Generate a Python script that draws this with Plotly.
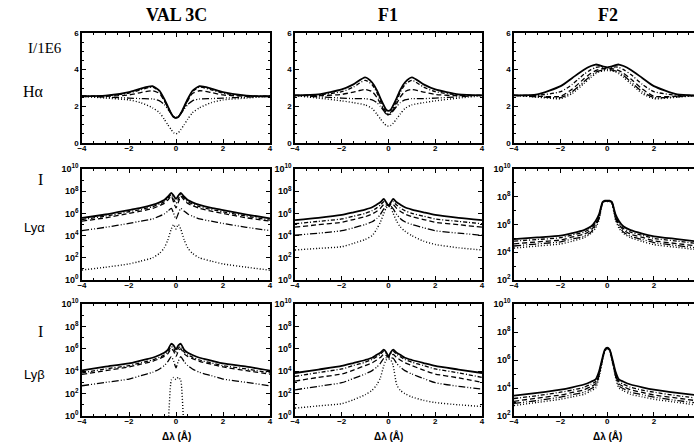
import plotly.graph_objects as go
from plotly.subplots import make_subplots

# wavelength offset grid (Angstrom) shared by every profile
X = [-4, -3, -2, -1.5, -1, -0.7, -0.5, -0.35, -0.2, -0.1, 0,
     0.1, 0.2, 0.35, 0.5, 0.7, 1, 1.5, 2, 3, 4]

COLUMNS = ["VAL 3C", "F1", "F2"]

# H-alpha, I/1E6 (five models per atmosphere)
HA_VAL3C = [
    [2.55, 2.58, 2.78, 2.97, 3.10, 2.85, 2.40, 2.00, 1.60, 1.42, 1.37, 1.42, 1.60, 2.00, 2.40, 2.85, 3.10, 2.97, 2.78, 2.58, 2.55],
    [2.55, 2.57, 2.72, 2.90, 3.05, 2.80, 2.35, 1.95, 1.60, 1.42, 1.37, 1.42, 1.60, 1.95, 2.35, 2.80, 3.05, 2.90, 2.72, 2.57, 2.55],
    [2.55, 2.55, 2.62, 2.75, 2.85, 2.70, 2.30, 1.95, 1.60, 1.42, 1.37, 1.42, 1.60, 1.95, 2.30, 2.70, 2.85, 2.75, 2.62, 2.55, 2.55],
    [2.55, 2.50, 2.45, 2.42, 2.40, 2.30, 2.10, 1.85, 1.60, 1.45, 1.40, 1.45, 1.60, 1.85, 2.10, 2.30, 2.40, 2.42, 2.45, 2.50, 2.55],
    [2.55, 2.45, 2.35, 2.20, 1.92, 1.65, 1.30, 1.00, 0.72, 0.56, 0.50, 0.56, 0.72, 1.00, 1.30, 1.65, 1.92, 2.20, 2.35, 2.45, 2.55],
]
HA_F1 = [
    [2.60, 2.65, 2.92, 3.20, 3.58, 3.30, 2.88, 2.45, 2.05, 1.82, 1.75, 1.82, 2.05, 2.45, 2.88, 3.30, 3.58, 3.20, 2.92, 2.65, 2.60],
    [2.60, 2.62, 2.80, 3.05, 3.42, 3.18, 2.75, 2.30, 1.90, 1.68, 1.60, 1.68, 1.90, 2.30, 2.75, 3.18, 3.42, 3.05, 2.80, 2.62, 2.60],
    [2.60, 2.58, 2.65, 2.78, 2.92, 2.80, 2.50, 2.15, 1.80, 1.60, 1.55, 1.60, 1.80, 2.15, 2.50, 2.80, 2.92, 2.78, 2.65, 2.58, 2.60],
    [2.60, 2.52, 2.45, 2.42, 2.42, 2.35, 2.20, 2.00, 1.75, 1.58, 1.52, 1.58, 1.75, 2.00, 2.20, 2.35, 2.42, 2.42, 2.45, 2.52, 2.60],
    [2.58, 2.45, 2.30, 2.20, 2.08, 1.88, 1.58, 1.32, 1.08, 0.96, 0.92, 0.96, 1.08, 1.32, 1.58, 1.88, 2.08, 2.20, 2.30, 2.45, 2.58],
]
HA_F2 = [
    [2.60, 2.65, 3.10, 3.55, 4.00, 4.20, 4.28, 4.25, 4.18, 4.15, 4.13, 4.15, 4.18, 4.25, 4.28, 4.20, 4.00, 3.55, 3.10, 2.65, 2.60],
    [2.60, 2.60, 2.80, 3.20, 3.75, 4.00, 4.12, 4.15, 4.12, 4.10, 4.10, 4.10, 4.12, 4.15, 4.12, 4.00, 3.75, 3.20, 2.80, 2.60, 2.60],
    [2.60, 2.55, 2.55, 2.95, 3.50, 3.80, 3.95, 4.02, 4.05, 4.05, 4.05, 4.05, 4.05, 4.02, 3.95, 3.80, 3.50, 2.95, 2.55, 2.55, 2.60],
    [2.60, 2.52, 2.48, 2.80, 3.35, 3.68, 3.85, 3.93, 3.98, 4.00, 4.00, 4.00, 3.98, 3.93, 3.85, 3.68, 3.35, 2.80, 2.48, 2.52, 2.60],
    [2.60, 2.50, 2.42, 2.70, 3.25, 3.58, 3.78, 3.88, 3.93, 3.95, 3.95, 3.95, 3.93, 3.88, 3.78, 3.58, 3.25, 2.70, 2.42, 2.50, 2.60],
]

# Lyman-alpha, log10 I
LYA_VAL3C = [
    [5.60, 5.90, 6.30, 6.50, 6.77, 7.00, 7.20, 7.50, 7.85, 7.60, 7.30, 7.60, 7.85, 7.50, 7.20, 7.00, 6.77, 6.50, 6.30, 5.90, 5.55],
    [5.45, 5.75, 6.15, 6.35, 6.60, 6.85, 7.05, 7.35, 7.70, 7.30, 6.90, 7.30, 7.70, 7.35, 7.05, 6.85, 6.60, 6.35, 6.15, 5.75, 5.40],
    [5.30, 5.60, 6.00, 6.20, 6.45, 6.70, 6.90, 7.20, 7.55, 7.00, 6.50, 7.00, 7.55, 7.20, 6.90, 6.70, 6.45, 6.20, 6.00, 5.60, 5.30],
    [4.45, 4.75, 5.10, 5.30, 5.50, 5.75, 5.95, 6.20, 6.45, 6.00, 5.50, 6.00, 6.45, 6.20, 5.95, 5.75, 5.50, 5.30, 5.10, 4.75, 4.45],
    [0.90, 1.15, 1.45, 1.70, 2.00, 2.40, 2.90, 3.60, 4.60, 5.00, 4.60, 5.00, 4.60, 3.60, 2.90, 2.40, 2.00, 1.70, 1.45, 1.15, 0.88],
]
LYA_F1 = [
    [5.40, 5.60, 5.87, 6.10, 6.35, 6.55, 6.80, 7.00, 7.30, 7.00, 6.70, 7.00, 7.30, 7.00, 6.80, 6.55, 6.35, 6.10, 5.87, 5.60, 5.40],
    [5.07, 5.28, 5.50, 5.75, 6.00, 6.25, 6.50, 6.75, 7.05, 6.85, 6.70, 6.85, 7.05, 6.75, 6.50, 6.25, 6.00, 5.75, 5.50, 5.28, 5.07],
    [4.76, 4.98, 5.20, 5.45, 5.70, 5.95, 6.20, 6.45, 6.80, 6.75, 6.70, 6.75, 6.80, 6.45, 6.20, 5.95, 5.70, 5.45, 5.20, 4.98, 4.76],
    [4.03, 4.22, 4.44, 4.70, 5.00, 5.25, 5.55, 5.90, 6.40, 6.65, 6.70, 6.65, 6.40, 5.90, 5.55, 5.25, 5.00, 4.70, 4.44, 4.22, 4.03],
    [2.70, 2.85, 3.00, 3.30, 3.65, 4.00, 4.60, 5.20, 6.00, 6.50, 6.65, 6.50, 6.00, 5.30, 4.80, 4.40, 4.00, 3.50, 3.20, 2.90, 2.70],
]
LYA_F2 = [
    [4.95, 5.07, 5.20, 5.38, 5.60, 5.85, 6.25, 6.75, 7.62, 7.72, 7.72, 7.72, 7.62, 6.75, 6.25, 5.85, 5.60, 5.35, 5.15, 4.95, 4.75],
    [4.80, 4.92, 5.05, 5.25, 5.45, 5.72, 6.12, 6.65, 7.60, 7.70, 7.70, 7.70, 7.60, 6.65, 6.12, 5.72, 5.45, 5.22, 5.00, 4.80, 4.60],
    [4.60, 4.75, 4.88, 5.10, 5.30, 5.60, 6.00, 6.55, 7.58, 7.68, 7.68, 7.68, 7.58, 6.55, 6.00, 5.60, 5.30, 5.07, 4.83, 4.62, 4.42],
    [4.45, 4.60, 4.75, 4.95, 5.15, 5.45, 5.88, 6.45, 7.55, 7.67, 7.68, 7.67, 7.55, 6.45, 5.88, 5.45, 5.15, 4.92, 4.70, 4.48, 4.28],
    [4.30, 4.45, 4.60, 4.80, 5.05, 5.35, 5.75, 6.35, 7.52, 7.65, 7.66, 7.65, 7.52, 6.35, 5.75, 5.35, 5.05, 4.78, 4.55, 4.35, 4.15],
]

# Lyman-beta, log10 I
LYB_VAL3C = [
    [4.08, 4.40, 4.70, 4.95, 5.20, 5.45, 5.65, 5.90, 6.45, 6.30, 5.95, 6.30, 6.45, 5.90, 5.65, 5.45, 5.20, 4.95, 4.70, 4.40, 4.05],
    [3.85, 4.20, 4.50, 4.75, 5.00, 5.25, 5.45, 5.70, 6.20, 6.05, 5.60, 6.05, 6.20, 5.70, 5.45, 5.25, 5.00, 4.75, 4.50, 4.20, 3.85],
    [3.72, 4.05, 4.38, 4.63, 4.88, 5.12, 5.32, 5.55, 6.00, 5.80, 5.30, 5.80, 6.00, 5.55, 5.32, 5.12, 4.88, 4.63, 4.38, 4.05, 3.72],
    [2.70, 3.00, 3.30, 3.60, 3.90, 4.20, 4.50, 4.85, 5.30, 4.90, 4.30, 4.90, 5.30, 4.85, 4.50, 4.20, 3.90, 3.60, 3.30, 3.00, 2.70],
    [-2.0, -2.0, -2.0, -2.0, -2.0, -2.0, -2.0, -1.0, 3.20, 3.45, 3.25, 3.45, 3.20, -1.0, -2.0, -2.0, -2.0, -2.0, -2.0, -2.0, -2.0],
]
LYB_F1 = [
    [3.84, 4.15, 4.47, 4.73, 5.00, 5.20, 5.47, 5.65, 5.93, 5.70, 5.30, 5.70, 5.93, 5.65, 5.47, 5.20, 5.00, 4.73, 4.47, 4.15, 3.84],
    [3.53, 3.88, 4.20, 4.50, 4.80, 5.05, 5.30, 5.50, 5.80, 5.60, 5.30, 5.60, 5.80, 5.50, 5.30, 5.05, 4.80, 4.50, 4.20, 3.85, 3.45],
    [3.12, 3.45, 3.75, 4.10, 4.50, 4.75, 5.00, 5.22, 5.50, 5.40, 5.25, 5.40, 5.50, 5.22, 5.00, 4.75, 4.50, 4.10, 3.75, 3.40, 3.00],
    [2.34, 2.65, 2.97, 3.35, 3.75, 4.05, 4.37, 4.70, 5.15, 5.20, 5.20, 5.20, 5.15, 4.70, 4.37, 4.05, 3.75, 3.35, 2.97, 2.65, 2.40],
    [0.70, 0.90, 1.10, 1.45, 1.90, 2.30, 2.80, 3.40, 4.50, 5.00, 5.10, 5.00, 4.50, 2.80, 2.30, 2.00, 1.70, 1.40, 1.20, 1.00, 0.85],
]
LYB_F2 = [
    [3.45, 3.65, 3.88, 4.05, 4.25, 4.45, 4.62, 5.20, 6.20, 6.75, 6.88, 6.75, 6.20, 5.20, 4.62, 4.45, 4.25, 4.05, 3.88, 3.65, 3.45],
    [3.25, 3.45, 3.70, 3.85, 4.05, 4.27, 4.45, 5.10, 6.15, 6.72, 6.86, 6.72, 6.15, 5.10, 4.45, 4.27, 4.05, 3.85, 3.70, 3.45, 3.25],
    [3.05, 3.28, 3.50, 3.68, 3.87, 4.10, 4.30, 5.00, 6.10, 6.70, 6.85, 6.70, 6.10, 5.00, 4.30, 4.10, 3.87, 3.68, 3.50, 3.28, 3.05],
    [2.90, 3.10, 3.35, 3.52, 3.70, 3.95, 4.15, 4.90, 6.05, 6.68, 6.84, 6.68, 6.05, 4.90, 4.15, 3.95, 3.70, 3.52, 3.35, 3.10, 2.90],
    [2.75, 2.97, 3.20, 3.37, 3.55, 3.80, 4.00, 4.80, 6.00, 6.65, 6.82, 6.65, 6.00, 4.80, 4.00, 3.80, 3.55, 3.37, 3.20, 2.97, 2.75],
]

HA_TICKS = [0, 2, 4, 6]
LOG_TICK_EXP = [0, 2, 4, 6, 8, 10]
X_TICKS = [-4, -2, 0, 2, 4]

DASHES = ["solid", "4px,2px,1px,2px", "5px,3px", "7px,2px,1px,2px,1px,2px", "1px,2px"]
WIDTHS = [1.8, 1.3, 1.3, 1.3, 1.4]

W, H = 694, 445


def px(x):
    return x / W


def py(y):
    return 1 - y / H


# panel frame edges in window pixels
X_EDGES = [(82, 270), (295, 482), (514, 694)]
Y_EDGES = [(33, 143), (169, 280), (304, 416)]

XFONT = dict(family="Liberation Sans", size=8, color="black", weight="bold")
YFONT_LIN = dict(family="Liberation Sans", size=8, color="black", weight="bold")
YFONT_LOG = dict(family="Liberation Sans", size=9, color="black", weight="bold")


def add_panel(fig, curves, row, col, log):
    for k, ys in enumerate(curves):
        yv = [10 ** v for v in ys] if log else ys
        fig.add_trace(go.Scatter(
            x=X, y=yv, mode="lines",
            line=dict(color="black", width=WIDTHS[k], dash=DASHES[k],
                      shape="spline", smoothing=0.6),
            showlegend=False, hoverinfo="skip"
        ), row=row, col=col)


fig = make_subplots(rows=3, cols=3)

panels = [
    (HA_VAL3C, 1, 1, False), (HA_F1, 1, 2, False), (HA_F2, 1, 3, False),
    (LYA_VAL3C, 2, 1, True), (LYA_F1, 2, 2, True), (LYA_F2, 2, 3, True),
    (LYB_VAL3C, 3, 1, True), (LYB_F1, 3, 2, True), (LYB_F2, 3, 3, True),
]
for curves, row, col, log in panels:
    add_panel(fig, curves, row, col, log)

for row in [1, 2, 3]:
    for col in [1, 2, 3]:
        xl, xr_px = X_EDGES[col - 1]
        yt, yb = Y_EDGES[row - 1]
        xr = [-4, 3.72] if col == 3 else [-4, 4]
        fig.update_xaxes(
            domain=[px(xl), px(xr_px)], range=xr, automargin=False,
            tickvals=X_TICKS, ticks="inside", ticklen=4, tickwidth=1,
            minor=dict(dtick=0.5, ticks="inside", ticklen=2, tickcolor="black"),
            showline=True, linecolor="black", linewidth=1.5, mirror="allticks",
            showgrid=False, zeroline=False, tickfont=XFONT, tickcolor="black",
            ticklabelstandoff=-3,
            row=row, col=col)
        ymirror = False if col == 3 else "allticks"
        if row == 1:
            fig.update_yaxes(
                range=[0, 6], tickvals=HA_TICKS, tickfont=YFONT_LIN,
                minor=dict(dtick=0.5, ticks="inside", ticklen=2, tickcolor="black"),
                row=row, col=col)
        else:
            lo = 2 if col == 3 else 0
            exps = [e for e in LOG_TICK_EXP if e >= lo]
            fig.update_yaxes(
                type="log", range=[lo, 10], tickfont=YFONT_LOG,
                tickvals=[10 ** e for e in exps],
                ticktext=["10<sup>%d</sup>" % e for e in exps],
                minor=dict(tickvals=[10 ** e for e in range(lo, 11)], ticks="inside",
                           ticklen=2, tickcolor="black"),
                row=row, col=col)
        fig.update_yaxes(
            domain=[py(yb), py(yt)], automargin=False,
            ticks="inside", ticklen=4, tickwidth=1, tickcolor="black",
            showline=True, linecolor="black", linewidth=1.5, mirror=ymirror,
            showgrid=False, zeroline=False,
            row=row, col=col)


def label(text, xc, yc, family, size):
    fig.add_annotation(text=text, x=px(xc), y=py(yc), xref="paper", yref="paper",
                       xanchor="center", yanchor="middle", showarrow=False,
                       font=dict(family=family, size=size, color="black"))


# column titles
for name, xc in zip(COLUMNS, [176, 388, 608]):
    label("<b>%s</b>" % name, xc, 15, "Liberation Serif", 18)

# x-axis titles under the bottom row
for xc in [176, 389, 607]:
    label("<b>\u0394\u03bb (\u00c5)</b>", xc, 436, "Liberation Sans", 10)

# row labels on the left
label("I/1E6", 45, 48, "Liberation Serif", 15)
label("H\u03b1", 33, 91, "Liberation Serif", 16)
label("I", 40, 179, "Liberation Serif", 16)
label("Ly\u03b1", 34, 228, "Liberation Sans", 13)
label("I", 40, 331, "Liberation Serif", 16)
label("Ly\u03b2", 34, 374, "Liberation Sans", 13)

fig.update_layout(
    width=W, height=H,
    margin=dict(l=0, r=0, t=0, b=0),
    plot_bgcolor="white", paper_bgcolor="white",
)

# drop the page's default body margin so the figure sits at the window corner
fig.write_html("out.html", config={"displayModeBar": False},
               post_script="document.body.style.margin='0px';")
